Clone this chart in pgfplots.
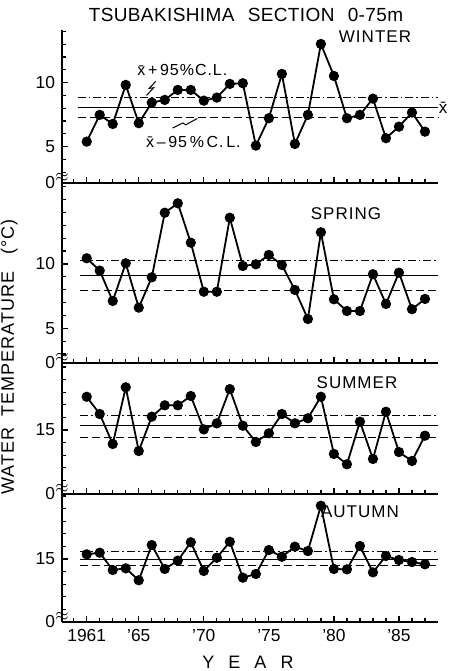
\documentclass[border=0pt]{standalone}
\usepackage{pgfplots}
\pgfplotsset{compat=1.18}
\usepackage{fontspec}
\setmainfont{Liberation Sans}
\newfontfamily\spaced[LetterSpace=6]{Liberation Sans}
\newfontfamily\titlefont[LetterSpace=2]{Liberation Sans}

\tikzset{
  brk/.style={font=\footnotesize, inner sep=0pt, yshift=2.5pt},
}
\pgfplotsset{
  panel/.style={
    scale only axis,
    width=188pt,
    anchor=south west,
    xmin=1959.1, xmax=1988.0,
    axis x line=bottom, axis y line=left,
    axis line style={-, line width=0.9pt},
    tick align=inside,
    major tick length=3pt, minor tick length=2pt,
    tick style={line width=0.6pt, black},
    xtick={1961,1965,1970,1975,1980,1985},
    minor xtick={1960,1962,1963,...,1987},
    xticklabels={,,,,,},
    tick label style={font=\fontsize{8.7}{10}\selectfont},
    clip=false,
  },
  series/.style={black, line width=0.9pt, mark=*, mark size=2.1pt,
    mark options={solid, fill=black}},
  mean/.style={black, line width=0.5pt},
  upper/.style={black, line width=0.5pt,
    dash pattern=on 4pt off 1.5pt on 0.8pt off 1.5pt},
  lower/.style={black, line width=0.5pt, dash pattern=on 4pt off 2pt},
}

\begin{document}
\begin{tikzpicture}
\useasboundingbox (0,0) rectangle (227.5pt,335.5pt);

% ---------------- winter ----------------
\begin{axis}[panel, at={(31pt,244pt)}, height=76.5pt,
  ymin=2.16, ymax=14.11,
  ytick={2.16,5,10}, yticklabels={0,5,10},
  minor ytick={3,4,6,7,8,9,11,12,13,14}]
\addplot[mean]  coordinates {(1960.3,8.08) (1988,8.08)};
\addplot[upper] coordinates {(1960.3,8.85) (1988,8.85)};
\addplot[lower] coordinates {(1960.3,7.25) (1988,7.25)};
\addplot[series] coordinates {
 (1961,5.39)(1962,7.48)(1963,6.77)(1964,9.82)(1965,6.83)(1966,8.44)
 (1967,8.65)(1968,9.43)(1969,9.43)(1970,8.59)(1971,8.83)(1972,9.90)
 (1973,9.95)(1974,5.08)(1975,7.22)(1976,10.68)(1977,5.21)(1978,7.48)
 (1979,13.02)(1980,10.52)(1981,7.22)(1982,7.48)(1983,8.75)(1984,5.66)
 (1985,6.56)(1986,7.66)(1987,6.17)};
\node[font=\spaced\fontsize{8}{9}\selectfont] at (axis cs:1968.35,10.95)
  {\=x\,+\,95\%C.L.};
\node[font=\spaced\fontsize{8}{9}\selectfont] at (axis cs:1969.2,5.35)
  {\=x\,\textendash\,95\,\%\,C.\,L.};
\draw[line width=0.5pt] (axis cs:1966.3,10.1) -- (axis cs:1965.8,9.55)
  -- (axis cs:1966.15,9.6) -- (axis cs:1965.6,9.0);
\draw[line width=0.5pt] (axis cs:1967.6,6.45) -- (axis cs:1968.4,6.85)
  -- (axis cs:1968.6,6.7) -- (axis cs:1969.5,7.2);
\node[font=\fontsize{8.5}{10}\selectfont, inner sep=0pt] at (axis cs:1988.4,8.05) {\=x};
\node[brk] at (rel axis cs:0,0) {$\approx$};
\end{axis}

% ---------------- spring ----------------
\begin{axis}[panel, at={(31pt,154pt)}, height=90pt,
  ymin=2.30, ymax=16.29,
  ytick={2.30,5,10}, yticklabels={0,5,10},
  minor ytick={3,4,6,7,8,9,11,12,13,14,15,16}]
\addplot[mean]  coordinates {(1960.5,9.1) (1988,9.1)};
\addplot[upper] coordinates {(1960.5,10.25) (1988,10.25)};
\addplot[lower] coordinates {(1960.5,7.97) (1988,7.97)};
\addplot[series] coordinates {
 (1961,10.44)(1962,9.48)(1963,7.12)(1964,10.05)(1965,6.60)(1966,8.96)
 (1967,13.98)(1968,14.71)(1969,11.65)(1970,7.84)(1971,7.84)(1972,13.59)
 (1973,9.84)(1974,9.97)(1975,10.70)(1976,9.92)(1977,7.98)(1978,5.72)
 (1979,12.46)(1980,7.25)(1981,6.34)(1982,6.34)(1983,9.20)(1984,6.89)
 (1985,9.32)(1986,6.48)(1987,7.28)};
\node[brk] at (rel axis cs:0,0) {$\approx$};
\end{axis}

% ---------------- summer ----------------
\begin{axis}[panel, at={(31pt,88.5pt)}, height=65.5pt,
  ymin=9.92, ymax=20.32,
  ytick={9.92,15}, yticklabels={0,15},
  minor ytick={11,12,13,14,16,17,18,19,20}]
\addplot[mean]  coordinates {(1960.5,15.35) (1988,15.35)};
\addplot[upper] coordinates {(1960.5,16.15) (1988,16.15)};
\addplot[lower] coordinates {(1960.5,14.4) (1988,14.4)};
\addplot[series] coordinates {
 (1961,17.64)(1962,16.27)(1963,13.89)(1964,18.39)(1965,13.33)(1966,16.06)
 (1967,16.96)(1968,16.96)(1969,17.70)(1970,15.05)(1971,15.53)(1972,18.25)
 (1973,15.34)(1974,14.05)(1975,14.74)(1976,16.27)(1977,15.53)(1978,15.93)
 (1979,17.64)(1980,13.10)(1981,12.28)(1982,15.66)(1983,12.70)(1984,16.45)
 (1985,13.25)(1986,12.54)(1987,14.55)};
\node[brk] at (rel axis cs:0,0) {$\approx$};
\end{axis}

% ---------------- autumn ----------------
\begin{axis}[panel, at={(31pt,24.5pt)}, height=64pt,
  ymin=10.0, ymax=20.16,
  ytick={10.0,15}, yticklabels={0,15},
  minor ytick={11,12,13,14,16,17,18,19,20},
  xticklabels={1961,'65,'70,'75,'80,'85}]
\addplot[mean]  coordinates {(1960.5,15.0) (1988,15.0)};
\addplot[upper] coordinates {(1960.5,15.6) (1988,15.6)};
\addplot[lower] coordinates {(1960.5,14.45) (1988,14.45)};
\addplot[series] coordinates {
 (1961,15.37)(1962,15.50)(1963,14.13)(1964,14.26)(1965,13.31)(1966,16.11)
 (1967,14.21)(1968,14.87)(1969,16.33)(1970,14.05)(1971,15.10)(1972,16.37)
 (1973,13.52)(1974,13.81)(1975,15.71)(1976,15.18)(1977,15.98)(1978,15.63)
 (1979,19.23)(1980,14.21)(1981,14.18)(1982,16.03)(1983,13.94)(1984,15.24)
 (1985,14.92)(1986,14.76)(1987,14.58)};
\node[brk] at (rel axis cs:0,0) {$\approx$};
\end{axis}

% titles and axis names
\node[font=\titlefont\fontsize{9.5}{10}\selectfont] at (123pt,328pt)
  {TSUBAKISHIMA\hspace{0.7em}SECTION\hspace{0.7em}0-75m};
\node[font=\spaced\fontsize{8.5}{10}\selectfont] at (187.5pt,317pt) {WINTER};
\node[font=\spaced\fontsize{8.5}{10}\selectfont] at (173pt,228.5pt) {SPRING};
\node[font=\spaced\fontsize{8.5}{10}\selectfont] at (178.5pt,144pt) {SUMMER};
\node[font=\spaced\fontsize{8.5}{10}\selectfont] at (180pt,79.5pt) {AUTUMN};
\node[rotate=90, font=\spaced\fontsize{9}{10}\selectfont] at (4.6pt,157pt)
  {WATER\hspace{0.6em}TEMPERATURE\hspace{0.9em}(°C)};
\node[font=\fontsize{9}{10}\selectfont] at (124pt,4.5pt)
  {Y\hspace{7pt}E\hspace{7pt}A\hspace{7pt}R};
\end{tikzpicture}
\end{document}
